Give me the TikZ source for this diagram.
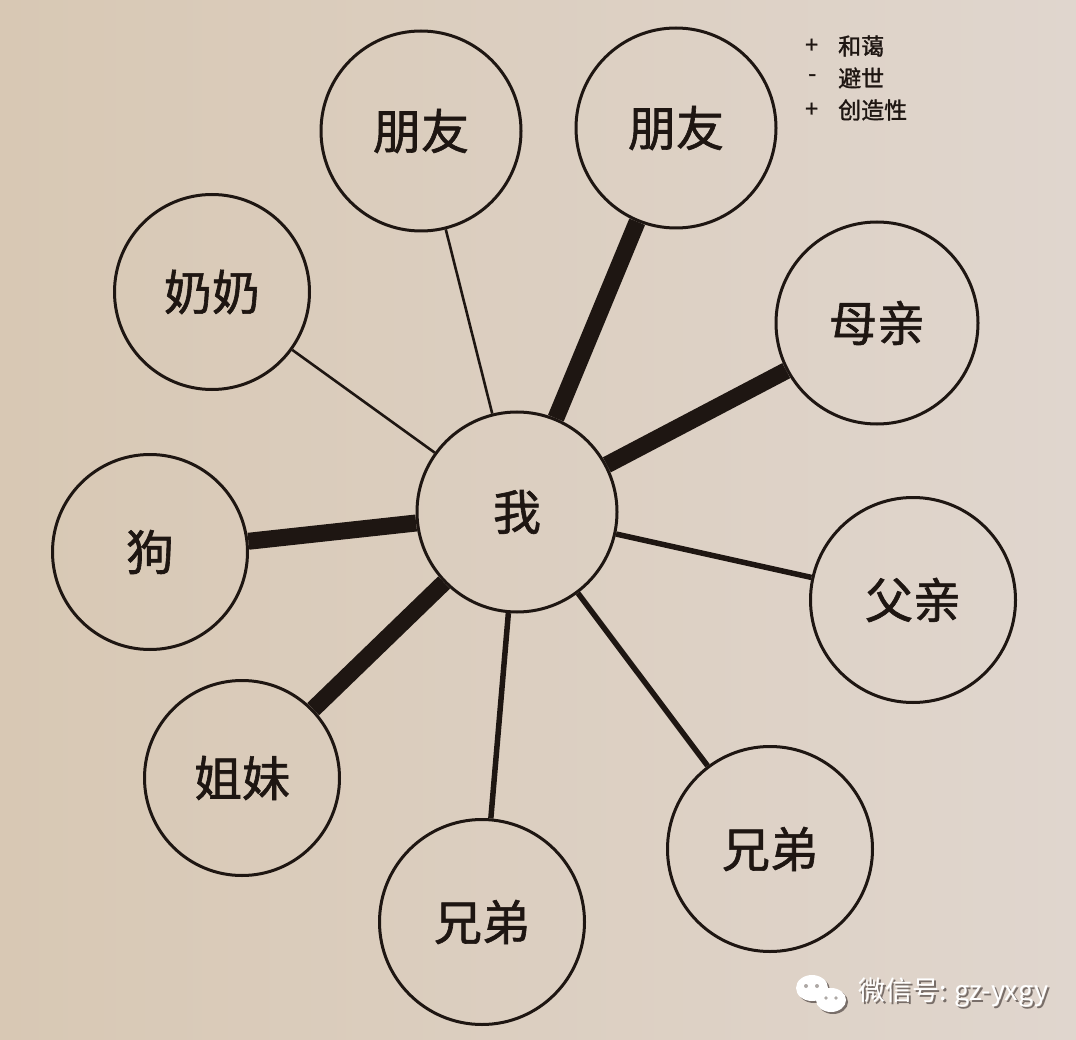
\documentclass[tikz,border=0pt]{standalone}
\usepackage{fontspec}
\newfontfamily\cjk{Noto Sans CJK SC}
\newfontfamily\cjkb[FakeBold=1.3]{Noto Sans CJK SC}
\definecolor{ink}{RGB}{30,22,18}
\definecolor{paperA}{RGB}{216,200,180}
\definecolor{paperB}{RGB}{224,214,206}
\definecolor{shadowc}{RGB}{120,110,105}
\tikzset{
  person/.style={circle, draw=ink, line width=3pt, minimum size=200pt, inner sep=0pt,
    font=\cjkb\fontsize{48}{52}\selectfont, text=ink},
  weak/.style={draw=ink, line width=2.6pt},
  mid/.style={draw=ink, line width=5.5pt},
  strong/.style={draw=ink, line width=17pt},
  note/.style={font=\cjkb\fontsize{23}{26}\selectfont, text=ink, inner sep=0pt, anchor=west},
  wm/.style={font=\cjk\fontsize{27}{30}\selectfont, inner sep=0pt, anchor=west}
}
\begin{document}
\begin{tikzpicture}[x=1pt,y=-1pt]
\useasboundingbox (0,0) rectangle (1076,1040);
\shade[left color=paperA, right color=paperB] (0,0) rectangle (1076,1040);

\node[person] (me) at (517,512) {我};
\node[person] (fr1) at (421,131) {朋友};
\node[person] (fr2) at (676,128) {朋友};
\node[person, minimum size=195pt] (gm) at (212,292) {奶奶};
\node[person, minimum size=202pt] (mo) at (877,323) {母亲};
\node[person, minimum size=195pt] (dog) at (150,552) {狗};
\node[person, minimum size=205pt] (fa) at (913,600) {父亲};
\node[person, minimum size=195pt] (si) at (242,778) {姐妹};
\node[person, minimum size=205pt] (br1) at (482,922) {兄弟};
\node[person, minimum size=205pt] (br2) at (770,849) {兄弟};

\draw[weak] (me) -- (fr1);
\draw[weak] (me) -- (gm);
\draw[strong] (me) -- (fr2);
\draw[strong] (me) -- (mo);
\draw[strong] (me) -- (dog);
\draw[strong] (me) -- (si);
\draw[mid] (me) -- (fa);
\draw[mid] (me) -- (br1);
\draw[mid] (me) -- (br2);

\node[note] (s1) at (805,46) {+};
\node[note] (t1) at (838,46) {和蔼};
\node[note] (s2) at (808,78) {-};
\node[note] (t2) at (838,78) {避世};
\node[note] (s3) at (805,110) {+};
\node[note] (t3) at (838,110) {创造性};

% watermark
\begin{scope}[shift={(820,994)}]
  \fill[shadowc] (-6,-4) ellipse (16pt and 13pt);
  \fill[white] (-8,-6) ellipse (16pt and 13pt);
  \fill[shadowc] (13,8) ellipse (15pt and 12pt);
  \fill[white] (11,6) ellipse (15pt and 12pt);
  \fill[shadowc!60] (-14,-8) circle (2pt) (-3,-8) circle (2pt) (6,4) circle (1.8pt) (16,4) circle (1.8pt);
\end{scope}
\node[wm, text=shadowc] (wms) at (860,995) {微信号: gz-yxgy};
\node[wm, text=white] (wmt) at (858,993) {微信号: gz-yxgy};
\end{tikzpicture}
\end{document}
